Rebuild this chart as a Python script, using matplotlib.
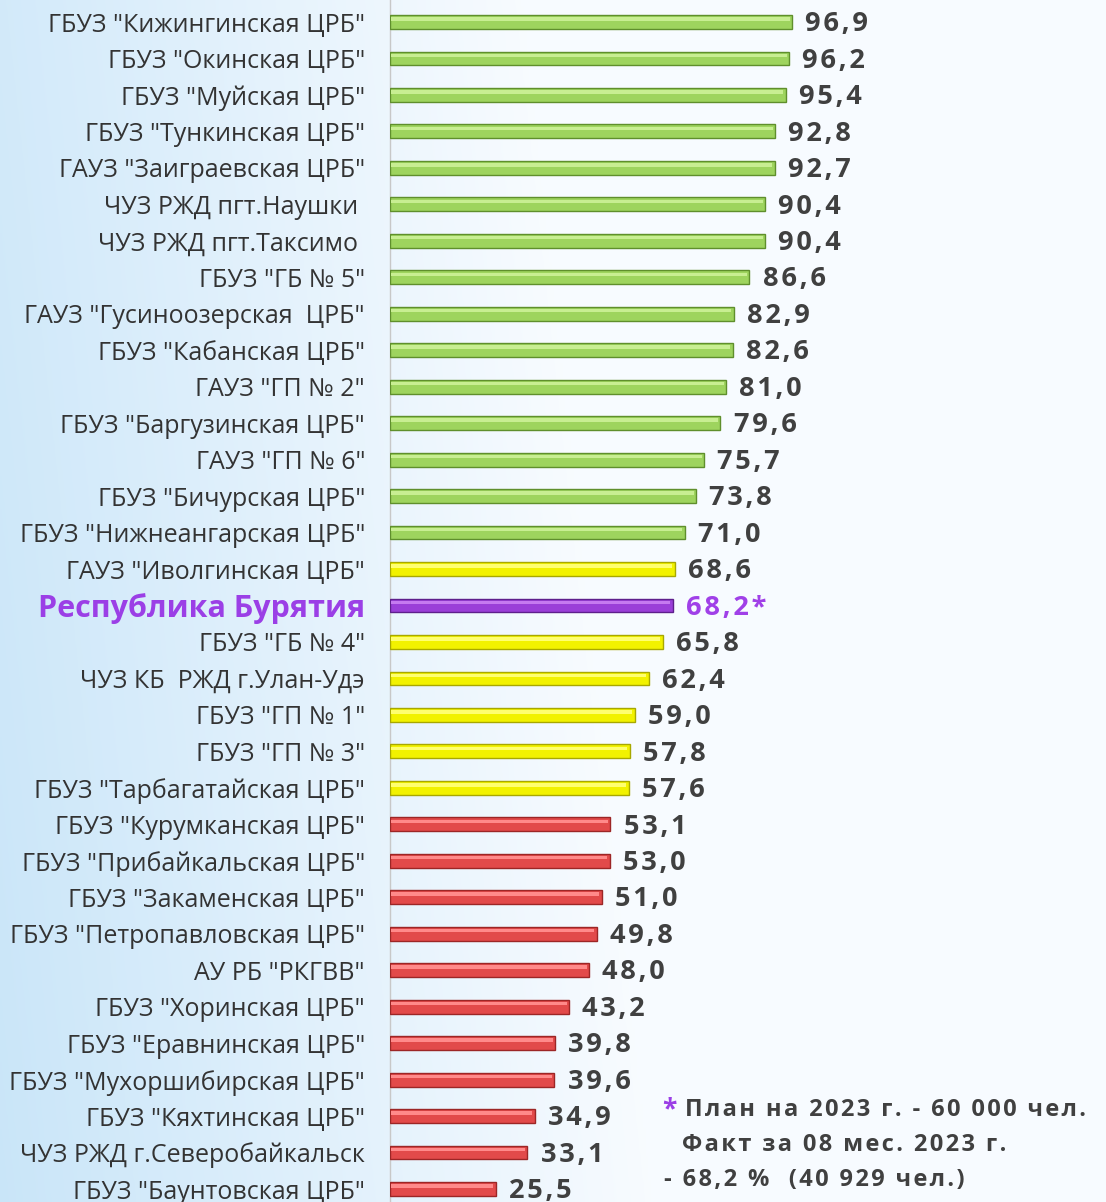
import numpy as np
import matplotlib
matplotlib.use('Agg')
from matplotlib import pyplot as plt

plt.rcParams['font.family'] = ['Open Sans', 'DejaVu Sans']

categories = [
    'ГБУЗ "Кижингинская ЦРБ"', 'ГБУЗ "Окинская ЦРБ"', 'ГБУЗ "Муйская ЦРБ"',
    'ГБУЗ "Тункинская ЦРБ"', 'ГАУЗ "Заиграевская ЦРБ"', 'ЧУЗ РЖД пгт.Наушки ',
    'ЧУЗ РЖД пгт.Таксимо ', 'ГБУЗ "ГБ № 5"', 'ГАУЗ "Гусиноозерская  ЦРБ"',
    'ГБУЗ "Кабанская ЦРБ"', 'ГАУЗ "ГП № 2"', 'ГБУЗ "Баргузинская ЦРБ"',
    'ГАУЗ "ГП № 6"', 'ГБУЗ "Бичурская ЦРБ"', 'ГБУЗ "Нижнеангарская ЦРБ"',
    'ГАУЗ "Иволгинская ЦРБ"', 'Республика Бурятия', 'ГБУЗ "ГБ № 4"',
    'ЧУЗ КБ  РЖД г.Улан-Удэ', 'ГБУЗ "ГП № 1"', 'ГБУЗ "ГП № 3"',
    'ГБУЗ "Тарбагатайская ЦРБ"', 'ГБУЗ "Курумканская ЦРБ"', 'ГБУЗ "Прибайкальская ЦРБ"',
    'ГБУЗ "Закаменская ЦРБ"', 'ГБУЗ "Петропавловская ЦРБ"', 'АУ РБ "РКГВВ"',
    'ГБУЗ "Хоринская ЦРБ"', 'ГБУЗ "Еравнинская ЦРБ"', 'ГБУЗ "Мухоршибирская ЦРБ"',
    'ГБУЗ "Кяхтинская ЦРБ"', 'ЧУЗ РЖД г.Северобайкальск', 'ГБУЗ "Баунтовская ЦРБ"',
]
values = [96.9, 96.2, 95.4, 92.8, 92.7, 90.4, 90.4, 86.6, 82.9, 82.6, 81.0, 79.6,
          75.7, 73.8, 71.0, 68.6, 68.2, 65.8, 62.4, 59.0, 57.8, 57.6, 53.1, 53.0,
          51.0, 49.8, 48.0, 43.2, 39.8, 39.6, 34.9, 33.1, 25.5]
groups = ['g'] * 15 + ['y', 'p'] + ['y'] * 5 + ['r'] * 11
region_name = 'Республика Бурятия'
note_lines = ['План на 2023 г. - 60 000 чел.', 'Факт за 08 мес. 2023 г.',
              '- 68,2 %  (40 929 чел.)']

# face, highlight, dark edge
palette = {
    'g': ('#9ed45e', '#c8ee92', '#5f8f2c'),
    'y': ('#f2f200', '#ffff70', '#a8a800'),
    'p': ('#9a3fd8', '#c57af0', '#5e1f8c'),
    'r': ('#e24a4a', '#ff8a8a', '#9c2626'),
}


def spaced(s):
    # the source uses a little letter spacing on the bold numbers
    return '\u200a'.join(s)


W, H = 1106, 1202
fig = plt.figure(figsize=(W / 100, H / 100), dpi=100)

# background gradient
bg = fig.add_axes([0, 0, 1, 1])
xx = np.linspace(0, 1, 400)
yy = np.linspace(0, 1, 300)
X, Y = np.meshgrid(xx, yy)
t = np.clip(X * 1.7 + (1 - Y) * 0.2, 0, 1)
c0 = np.array([0.79, 0.90, 0.975])
c1 = np.array([0.97, 0.985, 1.0])
img = c0[None, None, :] * (1 - t[..., None]) + c1[None, None, :] * t[..., None]
bg.imshow(img, aspect='auto', extent=[0, 1, 0, 1], origin='upper')
bg.axis('off')

left = 390 / W
ax = fig.add_axes([left, 0, 1 - left, 1])
ax.patch.set_alpha(0)
px_per_unit = (792 - 390) / 96.9
ax.set_xlim(0, (W - 390) / px_per_unit)
row = (1189 - 22) / 32
ax.set_ylim(32 + (H - 1189) / row, -22 / row)

y = np.arange(len(values))
h = 0.38
for yi, v, g in zip(y, values, groups):
    face, hi, edge = palette[g]
    ax.barh(yi, v, height=h, color=face, edgecolor=edge, linewidth=1.0, zorder=3)
    ax.barh(yi - h * 0.22, v - 0.9, height=h * 0.25, left=0.3, color=hi,
            linewidth=0, zorder=4)
    txt = f'{v:.1f}'.replace('.', ',')
    col = '#404040'
    if g == 'p':
        txt += '*'
        col = '#a040e8'
    ax.text(v + 3.2, yi + 0.06, spaced(txt), va='center', ha='left',
            fontsize=19.5, fontweight='bold', color=col)

ax.set_yticks(y)
ax.set_yticklabels(categories, fontsize=18, color='#333333')
ax.tick_params(axis='y', length=0, pad=18)
ax.tick_params(axis='x', bottom=False, labelbottom=False)
for lbl in ax.get_yticklabels():
    if lbl.get_text() == region_name:
        lbl.set_text(region_name + '  ')
        lbl.set_color('#9b3fe6')
        lbl.set_fontweight('bold')
        lbl.set_fontsize(22)
for s in ['top', 'right', 'bottom']:
    ax.spines[s].set_visible(False)
ax.spines['left'].set_color('#c8c8c8')
ax.spines['left'].set_linewidth(1.0)

# footnote
fig.text(662 / W, 1 - 1110 / H, '*', color='#9b3fe6', fontsize=19, fontweight='bold',
         va='center', ha='left')
note_x = [685, 682, 664]
note_y = [1110, 1145, 1180]
for s, nx, ny in zip(note_lines, note_x, note_y):
    fig.text(nx / W, 1 - ny / H, spaced(s), color='#404040',
             fontsize=17, fontweight='bold', va='center', ha='left')

fig.savefig('out.png', dpi=100)
